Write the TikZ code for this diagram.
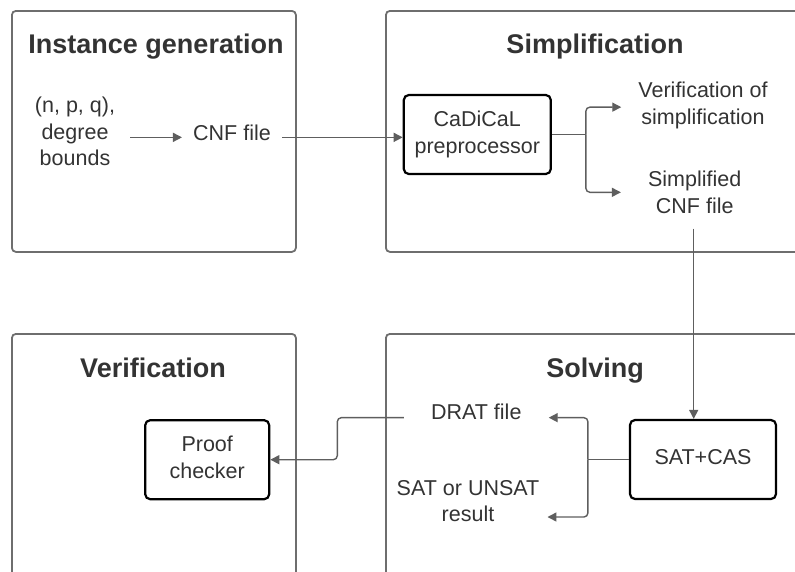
\documentclass[tikz,border=0pt]{standalone}
\usepackage{fontspec}
\setmainfont{Liberation Sans}
\usetikzlibrary{arrows.meta,calc}
\definecolor{linegray}{HTML}{5E5E5E}
\definecolor{framegray}{HTML}{6E6E6E}
\definecolor{inkgray}{HTML}{333333}
\begin{document}
\begin{tikzpicture}[x=1pt,y=-1pt,
  frame/.style={draw=framegray,line width=1.8pt,rounded corners=4pt,anchor=north west,inner sep=0pt},
  title/.style={font=\bfseries\fontsize{27}{32}\selectfont,text=inkgray,anchor=base,inner sep=0pt},
  lbl/.style={font=\fontsize{21.5}{26.6}\selectfont,text=inkgray,align=center,anchor=base,inner sep=0pt},
  proc/.style={draw=black,line width=2.2pt,rounded corners=5pt,font=\fontsize{21.5}{26.6}\selectfont,text=inkgray,align=center,inner sep=0pt},
  conn/.style={draw=linegray,line width=1.4pt,rounded corners=4pt,-{Triangle[length=9pt,width=9pt]}},
  wire/.style={draw=linegray,line width=1.4pt,rounded corners=4pt}]
\useasboundingbox (0,0) rectangle (795,571);
\clip (0,0) rectangle (795,571);

% stage frames
\node[frame,minimum width=284pt,minimum height=241pt] (genbox) at (11,10) {};
\node[frame,minimum width=440pt,minimum height=241pt] (simpbox) at (385,10) {};
\node[frame,minimum width=284pt,minimum height=260pt] (verbox) at (11,333) {};
\node[frame,minimum width=440pt,minimum height=260pt] (solvebox) at (385,333) {};

% stage titles
\node[title] (gentitle) at (156,53) {Instance generation};
\node[title] (simptitle) at (595,53) {Simplification};
\node[title] (vertitle) at (153,377.3) {Verification};
\node[title] (solvetitle) at (595,377.3) {Solving};

% instance generation (multi-line labels sit on their last baseline)
\node[lbl] (params) at (75,165.7) {(n, p, q),\\degree\\bounds};
\node[lbl] (cnf) at (232,140) {CNF file};

% simplification
\node[proc,minimum width=147pt,minimum height=79pt] (cadical) at (477.3,134.5) {CaDiCaL\\preprocessor};
\node[lbl] (verif) at (703,124) {Verification of\\simplification};
\node[lbl] (simpl) at (694.7,213.3) {Simplified\\CNF file};

% solving
\node[proc,minimum width=146pt,minimum height=79pt] (sat) at (703,459.5) {SAT+CAS\vphantom{p}};
\node[lbl] (drat) at (476.3,419.3) {DRAT file};
\node[lbl] (result) at (468,521.7) {SAT or UNSAT\\result};

% verification
\node[proc,minimum width=124pt,minimum height=79pt] (proof) at (207.2,459.7) {Proof\\checker\vphantom{p}};

% connectors
\draw[conn] ($(params.east |- cnf.mid west)+(15,0)$) -- ($(cnf.mid west)+(-11,0)$);
\draw[conn] ($(cnf.mid east)+(11,0)$) -- (cnf.mid east -| cadical.west);

\coordinate (fork1) at ($(cadical.east)+(34,0)$);
\draw[wire] (cadical.east) -- (fork1);
\draw[conn] (fork1) |- ($(verif.west)+(-17,2)$);
\draw[conn] (fork1) |- ($(simpl.west)+(-27,0)$);

\coordinate (drop) at ($(simpl.south)+(-1,15)$);
\draw[conn] (drop) -- (drop |- sat.north);

\coordinate (fork2) at ($(sat.west)+(-41,0)$);
\draw[wire] (sat.west) -- (fork2);
\draw[conn] (fork2) |- ($(drat.mid east)+(27,1)$);
\draw[conn] (fork2) |- ($(result.east)+(8,16)$);

\draw[conn] ($(drat.mid west)+(-27,1)$) -- ++(-66.6,0) |- (proof.east);
\end{tikzpicture}
\end{document}
